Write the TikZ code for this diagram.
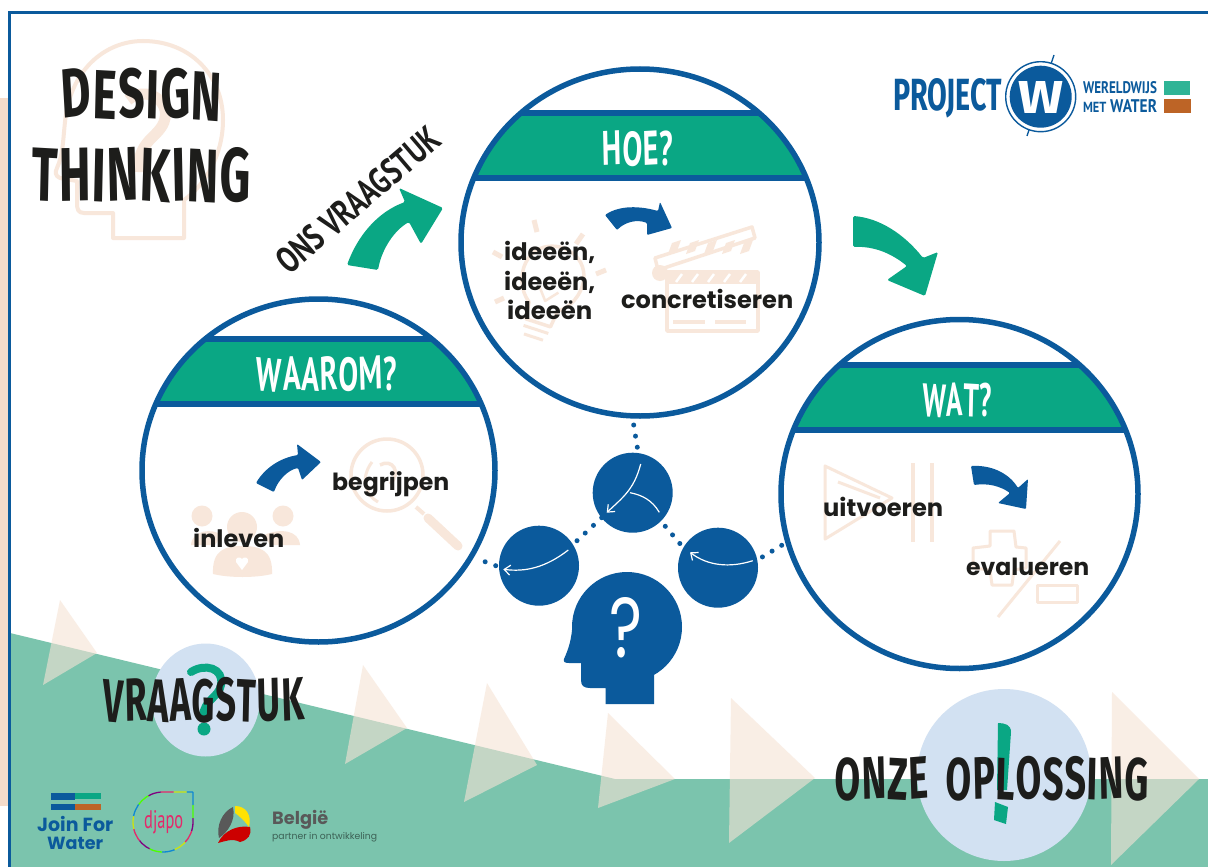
\documentclass[tikz,border=0pt]{standalone}
\usepackage{fontspec}
\usepackage{graphicx}
\usetikzlibrary{shapes.geometric,arrows.meta}
\setmainfont{Poppins}
\newfontfamily\brush{Fira Sans}
\newfontfamily\lab{Poppins}
\newfontfamily\cond{PT Sans}
\definecolor{wwblue}{HTML}{0B5A9C}
\definecolor{wwgreen}{HTML}{0AA784}
\definecolor{bggreen}{HTML}{7BC4AD}
\definecolor{peach}{HTML}{F8E7DB}
\definecolor{peachbar}{HTML}{F5DCCB}
\definecolor{trifill}{HTML}{F6E3D5}
\definecolor{ink}{HTML}{1D1D1B}
\definecolor{paleblue}{HTML}{D2E1F2}
\definecolor{wworange}{HTML}{BD6426}
\definecolor{djpink}{HTML}{E5286A}
\newcommand\LL[3]{\raisebox{#2pt}{\rotatebox{#1}{#3}}}
\newcommand\boxedtxt[3]{\resizebox{#1pt}{#2pt}{#3}}
\newcommand\fitw[2]{\resizebox{#1pt}{!}{#2}}
\newcommand\bandcircle[6]{%
  \fill[white] (#1,#2) ellipse [x radius=#3pt,y radius=#4pt];
  \begin{scope}
    \clip (#1,#2) ellipse [x radius=#3pt,y radius=#4pt];
    \fill[wwgreen] (#1-200,#5) rectangle (#1+200,#6);
    \draw[wwblue,line width=5.5pt] (#1-200,#5) -- (#1+200,#5);
    \draw[wwblue,line width=5.5pt] (#1-200,#6) -- (#1+200,#6);
  \end{scope}
}
\tikzset{
  bigc/.style={draw=wwblue,line width=5.5pt,ellipse,inner sep=0pt,fill=none},
  smallc/.style={circle,fill=wwblue,inner sep=0pt,minimum size=80pt},
  tri/.style={fill=trifill,fill opacity=.6},
  arrowg/.style={fill=wwgreen,rounded corners=1.5pt},
  arrowb/.style={fill=wwblue,rounded corners=1pt},
  title/.style={inner sep=0pt,text=ink,font=\brush\bfseries},
  headtxt/.style={inner sep=0pt,text=white,font=\cond\bfseries},
  lbl/.style={inner sep=0pt,anchor=base west,text=ink,font=\lab\bfseries},
  icon/.style={draw=peach,line width=3.5pt,fill=none,line join=round},
  iconf/.style={fill=peach},
  dotline/.style={draw=wwblue,line width=5pt,line cap=round,dash pattern=on 0pt off 11.25pt},
  thinw/.style={draw=white,line width=1.2pt},
  barwhite/.style={-{Straight Barb[length=6pt,width=10pt]}}
}
\begin{document}
\begin{tikzpicture}[x=1pt,y=-1pt]
\useasboundingbox (0,0) rectangle (1208,867);
\fill[white] (0,0) rectangle (1208,867);
% background
\fill[peachbar] (0,98) rectangle (10,806);
\fill[bggreen] (10,633) -- (615,779) -- (1208,779) -- (1208,867) -- (10,867) -- cycle;
\draw[wwblue,line width=3pt] (9.5,867) -- (9.5,13) -- (1208,13);
% triangles
\fill[tri] (60,600) -- (97,653) -- (43,685) -- cycle;
\fill[tri] (363,665) -- (407,728) -- (345,764) -- cycle;
\fill[tri] (487,683) -- (537,765) -- (464,802) -- cycle;
\fill[tri] (608,713) -- (675,779) -- (598,808) -- cycle;
\fill[tri] (731,698) -- (815,778) -- (729,843) -- cycle;
\fill[tri] (1112,692) -- (1199,779) -- (1111,865) -- cycle;
% pale circles
\fill[paleblue] (205.7,700) ellipse [x radius=54pt,y radius=56.5pt];
\fill[paleblue] (1004,775) ellipse [x radius=87pt,y radius=86pt];
% green question mark and exclamation mark
\draw[wwgreen,line width=8pt,line cap=round] (191,672) .. controls (205,663) and (224,668) .. (221,685) .. controls (219,697) and (204,700) .. (203,716);
\fill[wwgreen] (204,729) circle (6.5);
\fill[wwgreen] (998,723) .. controls (1005,723) and (1011,725) .. (1011,732) -- (1007,790) -- (997,790) -- cycle;
\fill[wwgreen] (995,802) -- (1008,807) -- (1006,824) -- (994,820) -- cycle;
% head icon, faint
\draw[icon,line width=4pt] (113,238) -- (113,213) -- (84,213) .. controls (78,213) and (77,209) .. (77,203) -- (77,181) -- (60,178) .. controls (55,176) and (55,172) .. (57,168) .. controls (63,155) and (63,140) .. (65,122) .. controls (70,70) and (105,41) .. (143,41) .. controls (190,41) and (223,75) .. (223,120) .. controls (223,155) and (205,185) .. (184,200) -- (184,238) -- cycle;
\draw[peach,line width=11pt] (128,100) .. controls (145,85) and (172,100) .. (164,122) .. controls (158,138) and (138,140) .. (138,172);
% title texts
\node[title] (design) at (141.5,94) {\boxedtxt{163}{52}{\LL{5}{0}{D}\LL{-2}{-.1}{E}\LL{3}{0}{S}\LL{-2}{-.1}{I}\LL{2}{-.1}{G}\LL{-3}{-.2}{N}}};
\node[title] (thinking) at (142,175) {\boxedtxt{220}{54}{\LL{-2}{0}{T}\LL{1}{-.1}{H}\LL{-2}{-.1}{I}\LL{2}{-.1}{N}\LL{-3}{0}{K}\LL{2}{-.1}{I}\LL{-2}{-.1}{N}\LL{-2}{0}{G}}};
\node[inner sep=0pt,text=ink,font=\cond\bfseries,rotate=40.5] (ons) at (358,200) {\boxedtxt{203}{26}{ONS VRAAGSTUK}};
% logo
\node[inner sep=0pt,text=wwblue,font=\brush\bfseries] (project) at (947.5,98) {\boxedtxt{109}{32}{PROJECT}};
\draw[wwblue,line width=1.3pt] (1054,55) -- (1027,136);
\draw[wwblue,line width=1.4pt,fill=white] (1040.7,96.7) circle (35);
\fill[wwblue] (1040.7,96.7) circle (31);
\node[inner sep=0pt,text=white,font=\brush\bfseries] (logow) at (1040.7,97) {\boxedtxt{45}{32}{W}};
\node[inner sep=0pt,text=wwblue,font=\cond\bfseries] (wereld) at (1120,88) {\boxedtxt{74}{12}{WERELDWIJS}};
\node[inner sep=0pt,text=wwblue,font=\cond\bfseries] (metwater) at (1120,106.5) {\boxedtxt{74}{13}{{\footnotesize MET} WATER}};
\fill[wwgreen!85!white] (1164,81) rectangle (1190,95);
\fill[wworange] (1164,99) rectangle (1191,113);
% circles
\bandcircle{640}{242.5}{179}{173.5}{113}{178}
\bandcircle{318.5}{470.5}{176.5}{171.5}{339}{404}
\bandcircle{959.5}{494}{178.5}{174.5}{365}{430}
% icon: bulb
\begin{scope}[shift={(552,280)},rotate=-18]
  \draw[icon] (-15,28) .. controls (-38,12) and (-38,-32) .. (0,-34) .. controls (38,-32) and (38,12) .. (15,28) -- (13,45) -- (-13,45) -- cycle;
  \draw[icon,line width=3pt] (-13,52) -- (13,52);
  \draw[icon,line width=3pt] (-10,60) -- (10,60);
  \draw[icon,line width=2.5pt] (-10,10) -- (0,22) -- (10,10);
\end{scope}
\draw[icon,line width=5pt] (534,220) -- (537,232);
\draw[icon,line width=5pt] (583,234) -- (576,244);
\draw[icon,line width=5pt] (606,270) -- (596,274);
\draw[icon,line width=5pt] (493,252) -- (502,257);
\draw[icon,line width=5pt] (495,302) -- (504,298);
% icon: clapperboard
\draw[icon] (667,272) rectangle (758,331);
\draw[icon] (655,258) -- (752,227) -- (755,238) -- (658,270) -- cycle;
\fill[peach] (667,272) rectangle (758,284);
\foreach \xx in {680,696,712,728,744} {\draw[white,line width=2.5pt] (\xx-4,282) -- (\xx+2,274);}
\foreach \xx in {668,686,704,722,740} {\fill[peach] (\xx,254) -- (\xx+9,251) -- (\xx+13,240) -- (\xx+4,243) -- cycle;}
\fill[peach] (660,273) circle (8);
\draw[peach,line width=3.5pt] (673,322) -- (705,322) (715,322) -- (746,322);
% icon: magnifier
\draw[icon] (387,475) circle (36);
\draw[peach,line width=3pt] (372,462) .. controls (360,478) and (365,495) .. (378,502);
\draw[peach,line width=3.5pt] (380,465) .. controls (392,458) and (402,472) .. (390,484);
\draw[peach,line width=4pt] (416,507) -- (424,514);
\draw[peach,line width=9pt,line cap=round] (428,518) -- (458,546);
% icon: people
\fill[iconf] (202,516) circle (10.5);
\fill[iconf] (283,516) circle (10.5);
\fill[iconf] (242,527) circle (15);
\fill[iconf] (191,545) .. controls (192,530) and (212,528) .. (222,535) -- (215,545) -- cycle;
\fill[iconf] (300,545) .. controls (299,530) and (280,528) .. (264,535) -- (270,545) -- cycle;
\fill[iconf] (213,574) .. controls (212,550) and (225,546) .. (242,546) .. controls (260,546) and (273,550) .. (272,574) .. controls (255,578) and (230,578) .. (213,574) -- cycle;
\fill[white] (242,570) -- (236,562) .. controls (235,557) and (240,556) .. (242,559) .. controls (244,556) and (249,557) .. (248,562) -- cycle;
% icon: play and pause
\draw[icon,line width=3pt] (825,466) -- (892,498) -- (825,539) -- cycle;
\draw[icon,line width=3pt] (838,482) -- (880,498);
\draw[icon,line width=4pt] (913,463) -- (913,542);
\draw[icon,line width=4pt] (932,463) -- (932,542);
% icon: plus and minus
\draw[icon,line width=3pt] (990,531) -- (1014,531) -- (1016,547) -- (1026,548) -- (1026,568) -- (1014,570) -- (1012,585) -- (992,585) -- (990,570) -- (973,568) -- (973,548) -- (990,546) -- cycle;
\draw[icon,line width=3pt] (1060,541) -- (998,617);
\draw[icon,line width=3pt] (1037,585) rectangle (1077,602);
% outlines
\node[bigc,minimum width=358pt,minimum height=347pt] (hoe) at (640,242.5) {};
\node[bigc,minimum width=353pt,minimum height=343pt] (waarom) at (318.5,470.5) {};
\node[bigc,minimum width=357pt,minimum height=349pt] (wat) at (959.5,494) {};
% headings
\node[headtxt] (waaromt) at (326.5,374.5) {\boxedtxt{141}{35}{\LL{-3}{0}{W}\LL{2}{0}{A}\LL{-2}{0}{A}\LL{2}{0}{R}\LL{-2}{0}{O}\LL{3}{0}{M}?}};
\node[headtxt] (hoet) at (637.5,148.5) {\boxedtxt{71}{35}{\LL{2}{0}{H}\LL{-2}{0}{O}\LL{2}{0}{E}?}};
\node[headtxt] (watt) at (957,400) {\boxedtxt{70}{34}{\LL{-2}{0}{W}\LL{2}{0}{A}\LL{-2}{0}{T}?}};
% labels
\node[lbl] (begr) at (332,490) {\fitw{117}{begrijpen}};
\node[lbl] (inl) at (193,547) {\fitw{91}{inleven}};
\node[lbl] (id1) at (504,260) {\fitw{91}{ideeën,}};
\node[lbl] (id2) at (504,290) {\fitw{91}{ideeën,}};
\node[lbl] (id3) at (507,319) {\fitw{85}{ideeën}};
\node[lbl] (conc) at (621,308) {\fitw{172}{concretiseren}};
\node[lbl] (uitv) at (823,516) {\fitw{120}{uitvoeren}};
\node[lbl] (eval) at (966,575) {\fitw{123}{evalueren}};
% green arrows
\fill[arrowg] (347,265) .. controls (358,235) and (378,212) .. (405,202) -- (399,188) -- (443,208) -- (421,244) -- (409,222) .. controls (395,230) and (382,248) .. (378,270) -- cycle;
\fill[arrowg] (853,216) .. controls (880,218) and (905,235) .. (923,258) -- (938,252) -- (925,296) -- (887,280) -- (907,266) .. controls (892,254) and (875,246) .. (853,247) -- cycle;
% blue arrows
\fill[arrowb] (256,483) .. controls (265,468) and (280,458) .. (298,455) -- (297,444) -- (321,462) -- (302,480) -- (298,468) .. controls (288,470) and (278,480) .. (274,492) -- cycle;
\fill[arrowb] (605,215) .. controls (620,205) and (640,206) .. (658,211) -- (660,202) -- (672,228) -- (647,235) -- (647,223) .. controls (637,219) and (625,222) .. (617,230) -- cycle;
\fill[arrowb] (971,466) .. controls (990,465) and (1008,472) .. (1018,488) -- (1028,479) -- (1026,509) -- (998,503) -- (1010,493) .. controls (1000,486) and (988,483) .. (974,485) -- cycle;
% small circles and head
\node[smallc] (stop) at (632.7,492.7) {};
\node[smallc] (sleft) at (539,565.7) {};
\node[smallc] (sright) at (718,567.7) {};
\draw[thinw,barwhite] (640.7,464) .. controls (634,490) and (622,498) .. (606.7,512.7);
\draw[thinw] (659.3,512.3) .. controls (652,500) and (642,495) .. (630,492.7);
\draw[thinw,barwhite] (568.3,550) .. controls (545,568) and (525,572) .. (503.3,569.3);
\draw[thinw,barwhite] (752.7,560.7) .. controls (730,568) and (708,566) .. (690,552.3);
% dotted connections
\coordinate (d1a) at (633.7,425); \coordinate (d1b) at (637.3,447.3);
\coordinate (d2a) at (601.7,517.7); \coordinate (d2b) at (576.7,541);
\coordinate (d3a) at (495.7,565.7); \coordinate (d3b) at (485,561.7);
\coordinate (d4a) at (665.3,526.3); \coordinate (d4b) at (680,543.7);
\coordinate (d5a) at (781.7,545.3); \coordinate (d5b) at (762.3,557);
\draw[dotline] (d1a) -- (d1b);
\draw[dotline] (d2a) -- (d2b);
\draw[dotline] (d3a) -- (d3b);
\draw[dotline] (d4a) -- (d4b);
\draw[dotline] (d5a) -- (d5b);
% thinking head
\fill[wwblue] (627,627) circle (55);
\fill[wwblue] (654,704) -- (654,660) -- (610,600) -- (572.5,622) .. controls (572,640) and (568,650) .. (564,659) .. controls (563,662) and (565,663) .. (569,663) -- (581,663) -- (581,680) .. controls (581,686) and (584,688) .. (590,688) -- (605.7,688) -- (605.7,704) -- cycle;
\node[inner sep=0pt,text=white,font=\lab] (qm) at (626,628) {\boxedtxt{33}{60}{?}};
% lower titles
\node[title] (vraag) at (204,700) {\boxedtxt{202}{45}{\LL{-3}{0}{V}\LL{2}{0}{R}\LL{-2}{0}{A}\LL{2}{0}{A}\LL{-2}{0}{G}\LL{3}{0}{S}\LL{-2}{0}{T}\LL{2}{0}{U}\LL{3}{0}{K}}};
\node[title] (onze) at (992,779) {\boxedtxt{314}{44}{\LL{-2}{0}{O}\LL{2}{0}{N}\LL{-2}{0}{Z}\LL{3}{0}{E}\hspace{.45em}\LL{-2}{0}{O}\LL{2}{0}{P}\LL{-2}{0}{L}\LL{2}{0}{O}\LL{-2}{0}{S}\LL{2}{0}{S}\LL{-2}{0}{I}\LL{2}{0}{N}\LL{-2}{0}{G}}};
% Join For Water logo
\fill[wwblue] (51,793) rectangle (75,800);
\fill[wwgreen] (75,793) rectangle (101,799);
\fill[wwblue] (51,804) rectangle (75,810);
\fill[wworange] (75,804) rectangle (101,810);
\node[lbl,text=wwblue] (jfw1) at (37,831) {\fitw{76}{Join For}};
\node[lbl,text=wwblue] (jfw2) at (47,849) {\fitw{56}{Water}};
% djapo logo
\def\droppath{(193,792) -- (193,822) .. controls (193,838.6) and (179.6,852) .. (163,852) .. controls (146.4,852) and (133,838.6) .. (133,822) .. controls (133,805.4) and (146.4,792) .. (163,792) -- cycle}
\draw[cyan!70!blue,line width=1.3pt,dash pattern=on 13pt off 52pt] \droppath;
\draw[yellow!80!green,line width=1.3pt,dash pattern=on 13pt off 52pt,dash phase=13pt] \droppath;
\draw[djpink,line width=1.3pt,dash pattern=on 13pt off 52pt,dash phase=26pt] \droppath;
\draw[violet,line width=1.3pt,dash pattern=on 13pt off 52pt,dash phase=39pt] \droppath;
\draw[green!70!yellow,line width=1.3pt,dash pattern=on 13pt off 52pt,dash phase=52pt] \droppath;
\node[inner sep=0pt,anchor=base west,text=djpink,font=\cond] (djapo) at (144,828) {\boxedtxt{39}{18}{djapo}};
% Belgium logo
\fill[black!65] (233,807) .. controls (222,812) and (216,826) .. (219,838) .. controls (228,832) and (236,820) .. (233,807) -- cycle;
\fill[yellow!85!orange] (235,806) .. controls (246,806) and (252,815) .. (249,827) .. controls (244,820) and (238,815) .. (235,813) -- cycle;
\fill[red!80!black] (218,843) .. controls (224,830) and (238,825) .. (250,827) .. controls (252,835) and (248,840) .. (240,842) .. controls (232,838) and (226,841) .. (218,843) -- cycle;
\node[inner sep=0pt,anchor=base west,text=black!65,font=\lab\bfseries] (bel) at (272,824) {\fitw{56}{België}};
\node[inner sep=0pt,anchor=base west,text=black!50!bggreen,font=\lab] (bel2) at (272,839) {\fitw{105}{partner in ontwikkeling}};
\end{tikzpicture}
\end{document}
